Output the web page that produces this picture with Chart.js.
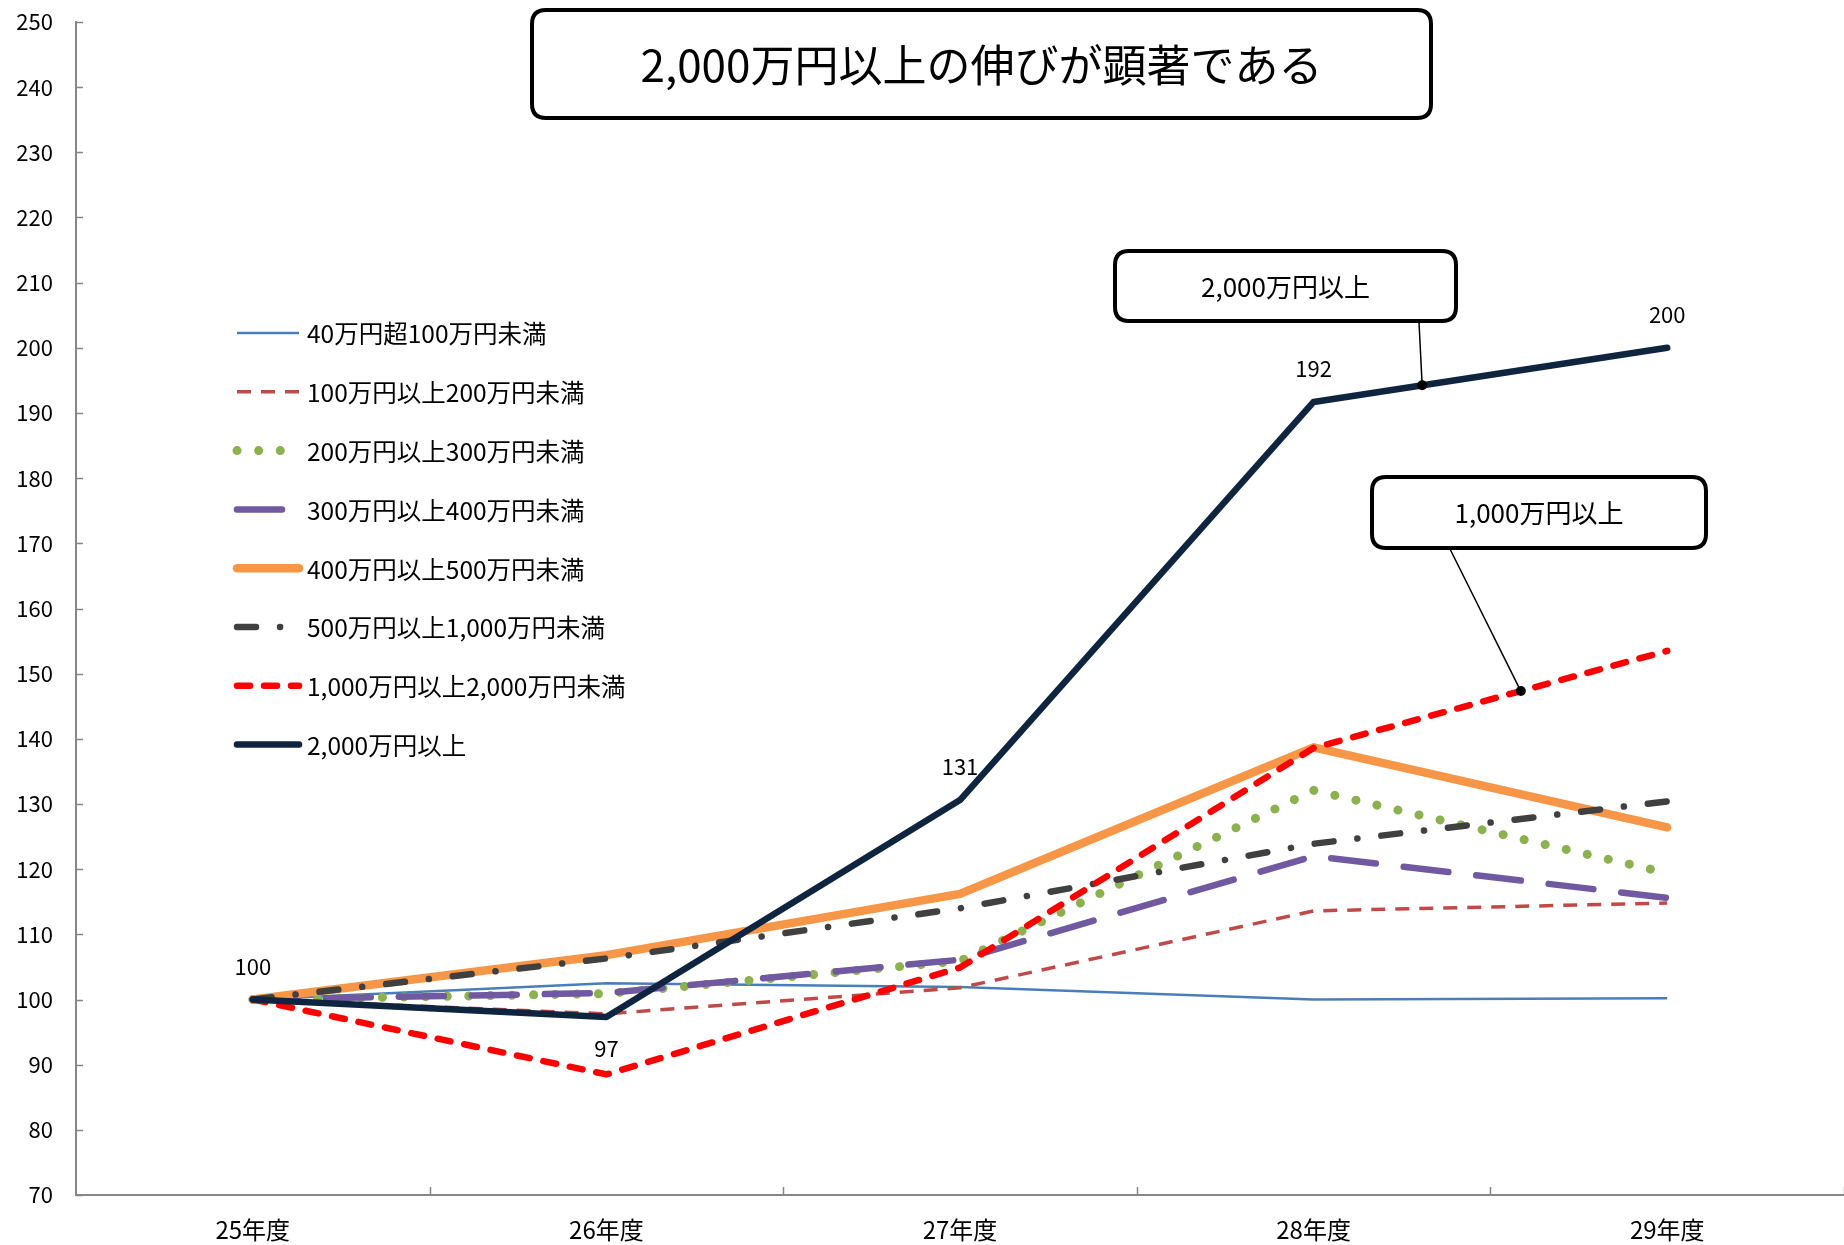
<!DOCTYPE html>
<html>
<head>
<meta charset="utf-8">
<script src="https://cdn.jsdelivr.net/npm/chart.js@4"></script>
<style>
  body { margin: 0; background: #fff; }
  canvas { display: block; }
</style>
</head>
<body>
<canvas id="myChart" width="1844" height="1245"></canvas>
<script>
const FONT = '"Noto Sans CJK JP", "Noto Sans", sans-serif';

const categories = ['25年度', '26年度', '27年度', '28年度', '29年度'];

const seriesNames = [
    '40万円超100万円未満',
    '100万円以上200万円未満',
    '200万円以上300万円未満',
    '300万円以上400万円未満',
    '400万円以上500万円未満',
    '500万円以上1,000万円未満',
    '1,000万円以上2,000万円未満',
    '2,000万円以上',
];

const s40to100 = [100, 102.5, 101.9, 100.0, 100.2];
const s100to200 = [100, 97.8, 101.8, 113.6, 114.8];
const s200to300 = [100, 100.9, 105.9, 132.1, 119.4];
const s300to400 = [100, 101.0, 106.1, 122.0, 115.6];
const s400to500 = [100, 106.8, 116.2, 138.7, 126.4];
const s500to1000 = [100, 106.3, 114.0, 123.9, 130.4];
const s1000to2000 = [100, 88.5, 104.9, 138.6, 153.5];
const s2000over = [100, 97.3, 130.6, 191.7, 200.0];

const yMin = 70;
const yMax = 250;
const yStep = 10;

const titleText = '2,000万円以上の伸びが顕著である';
const callout2000 = '2,000万円以上';
const callout1000 = '1,000万円以上';

// line looks, same order as seriesNames
const styles = [
    { color: '#4A7EBB', width: 2.5, dash: [], cap: 'butt' },
    { color: '#BE4B48', width: 3.5, dash: [14, 10], cap: 'butt' },
    { color: '#8CB14F', width: 9, dash: [0.1, 21.5], cap: 'round' },
    { color: '#7059A0', width: 6.5, dash: [45, 28], cap: 'round' },
    { color: '#F79646', width: 8.5, dash: [], cap: 'round' },
    { color: '#404040', width: 6.5, dash: [19, 24, 0.1, 24], cap: 'round' },
    { color: '#FF0000', width: 6.5, dash: [13, 14], cap: 'round' },
    { color: '#0F243E', width: 6.5, dash: [], cap: 'round' },
];

const allSeries = [s40to100, s100to200, s200to300, s300to400, s400to500, s500to1000, s1000to2000, s2000over];

const datasets = allSeries.map((vals, i) => ({
    label: seriesNames[i],
    data: vals,
    borderColor: styles[i].color,
    backgroundColor: styles[i].color,
    borderWidth: styles[i].width,
    borderDash: styles[i].dash,
    borderCapStyle: styles[i].cap,
    borderJoinStyle: 'round',
    pointRadius: 0,
    tension: 0,
    fill: false,
    order: allSeries.length - 1 - i,
}));

function roundRect(ctx, x, y, w, h, r) {
    ctx.beginPath();
    ctx.moveTo(x + r, y);
    ctx.lineTo(x + w - r, y);
    ctx.quadraticCurveTo(x + w, y, x + w, y + r);
    ctx.lineTo(x + w, y + h - r);
    ctx.quadraticCurveTo(x + w, y + h, x + w - r, y + h);
    ctx.lineTo(x + r, y + h);
    ctx.quadraticCurveTo(x, y + h, x, y + h - r);
    ctx.lineTo(x, y + r);
    ctx.quadraticCurveTo(x, y, x + r, y);
    ctx.closePath();
}

function box(ctx, x, y, w, h, text, size) {
    ctx.save();
    roundRect(ctx, x, y, w, h, 14);
    ctx.fillStyle = '#fff';
    ctx.fill();
    ctx.lineWidth = 4;
    ctx.strokeStyle = '#000';
    ctx.stroke();
    ctx.fillStyle = '#000';
    ctx.font = size + 'px ' + FONT;
    ctx.textAlign = 'center';
    ctx.textBaseline = 'middle';
    ctx.fillText(text, x + w / 2, y + h / 2 + 1);
    ctx.restore();
}

// point on a drawn segment, t = 0..1 between two categories
function along(chart, ds, i, t) {
    const pts = chart.getDatasetMeta(ds).data;
    return {
        x: pts[i].x + (pts[i + 1].x - pts[i].x) * t,
        y: pts[i].y + (pts[i + 1].y - pts[i].y) * t,
    };
}

const extras = {
    id: 'extras',
    afterDraw(chart) {
        const ctx = chart.ctx;
        const x = chart.scales.x;
        const y = chart.scales.y;
        const area = chart.chartArea;

        // inward tick marks
        ctx.save();
        ctx.strokeStyle = '#868686';
        ctx.lineWidth = 1.5;
        for (let v = yMin; v <= yMax; v += yStep) {
            const py = Math.round(y.getPixelForValue(v)) + 0.5;
            ctx.beginPath();
            ctx.moveTo(area.left, py);
            ctx.lineTo(area.left + 7, py);
            ctx.stroke();
        }
        const half = (x.getPixelForValue(1) - x.getPixelForValue(0)) / 2;
        for (let i = 0; i < categories.length; i++) {
            const px = Math.round(x.getPixelForValue(i) + half) + 0.5;
            ctx.beginPath();
            ctx.moveTo(px, area.bottom);
            ctx.lineTo(px, area.bottom - 8);
            ctx.stroke();
        }
        ctx.restore();

        // value labels on the 2,000万円以上 line
        const top = chart.getDatasetMeta(7).data;
        ctx.save();
        ctx.fillStyle = '#000';
        ctx.font = '22px ' + FONT;
        ctx.textAlign = 'center';
        ctx.textBaseline = 'middle';
        top.forEach((p, i) => {
            const below = s2000over[i] < s2000over[0];
            ctx.fillText(String(Math.round(s2000over[i])), p.x, p.y + (below ? 32 : -33));
        });
        ctx.restore();

        // legend
        ctx.save();
        ctx.font = '24.5px ' + FONT;
        ctx.textBaseline = 'middle';
        seriesNames.forEach((name, i) => {
            const ly = 333 + i * 58.8;
            const st = styles[i];
            ctx.beginPath();
            ctx.strokeStyle = st.color;
            ctx.lineWidth = st.width;
            ctx.lineCap = st.cap;
            ctx.setLineDash(st.dash);
            ctx.moveTo(237, ly);
            ctx.lineTo(299, ly);
            ctx.stroke();
            ctx.setLineDash([]);
            ctx.fillStyle = '#000';
            ctx.fillText(name, 307, ly + 1);
        });
        ctx.restore();

        // title
        box(ctx, 532, 10, 899, 108, titleText, 44);

        // callouts
        const d1 = along(chart, 7, 3, 0.307);
        const d2 = along(chart, 6, 3, 0.586);
        ctx.save();
        ctx.strokeStyle = '#000';
        ctx.fillStyle = '#000';
        ctx.lineWidth = 1.5;
        ctx.beginPath();
        ctx.moveTo(1419, 322);
        ctx.lineTo(d1.x, d1.y);
        ctx.moveTo(1450, 549);
        ctx.lineTo(d2.x, d2.y);
        ctx.stroke();
        [d1, d2].forEach((d) => {
            ctx.beginPath();
            ctx.arc(d.x, d.y, 5, 0, Math.PI * 2);
            ctx.fill();
        });
        ctx.restore();
        box(ctx, 1115, 251, 341, 70, callout2000, 26);
        box(ctx, 1372, 477, 334, 71, callout1000, 26);
    }
};

const config = {
    type: 'line',
    data: {
        labels: categories,
        datasets: datasets,
    },
    options: {
        responsive: false,
        animation: false,
        layout: { padding: { top: 22, right: 0, bottom: 0, left: 0 } },
        plugins: {
            legend: { display: false },
            tooltip: { enabled: false },
        },
        scales: {
            x: {
                offset: true,
                grid: { drawOnChartArea: false, drawTicks: false },
                border: { color: '#868686', width: 2 },
                ticks: { color: '#000', font: { family: FONT, size: 24 }, padding: 20 },
                afterFit: (s) => { s.height = 50; },
            },
            y: {
                min: yMin,
                max: yMax,
                grid: { drawOnChartArea: false, drawTicks: false },
                border: { color: '#868686', width: 2 },
                ticks: { stepSize: yStep, color: '#000', font: { family: FONT, size: 22 }, padding: 23 },
                afterFit: (s) => {
                    s.width = 76;
                    s.paddingTop = 0;
                    s.paddingBottom = 0;
                },
            },
        },
    },
    plugins: [extras],
};

const myChart = new Chart(document.getElementById('myChart'), config);
</script>
</body>
</html>
